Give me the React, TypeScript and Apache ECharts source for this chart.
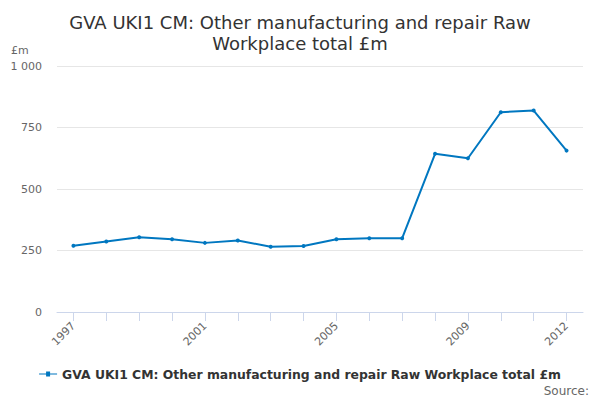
import React, { useEffect, useRef } from "react";
import * as echarts from "echarts";

const years = ["1997","1998","1999","2000","2001","2002","2003","2004","2005","2006","2007","2008","2009","2010","2011","2012"];
const values = [269, 287, 304, 296, 281, 291, 265, 268, 296, 300, 300, 643, 625, 812, 819, 656];
const yTicks = [0, 250, 500, 750, 1000];
const seriesName = "GVA UKI1 CM: Other manufacturing and repair Raw Workplace total £m";
const titleText = "GVA UKI1 CM: Other manufacturing and repair Raw\nWorkplace total £m";

const FONT = "DejaVu Sans";

export default function App() {
  const ref = useRef<HTMLDivElement>(null);
  useEffect(() => {
    if (!ref.current) return;
    const chart = echarts.init(ref.current, null, { renderer: "svg" });
    chart.setOption({
      animation: false,
      backgroundColor: "#ffffff",
      title: {
        text: titleText,
        left: "center",
        top: 7,
        textStyle: { fontFamily: FONT, fontSize: 18, fontWeight: "normal", color: "#333333", lineHeight: 21 },
      },
      legend: {
        bottom: 15,
        left: "center",
        itemWidth: 18,
        itemHeight: 8,
        itemGap: 5,
        icon: "path://M0,3.5 L18,3.5 L18,4.5 L0,4.5 Z M7,1.5 L11,1.5 L11,6.5 L7,6.5 Z",
        textStyle: { fontFamily: FONT, fontSize: 12.4, fontWeight: "bold", color: "#333333" },
        data: [seriesName],
      },
      graphic: [
        { type: "text", left: 11, top: 45, style: { text: "£m", fontFamily: FONT, fontSize: 11, fill: "#666666" } },
        { type: "text", right: 11, top: 385, style: { text: "Source:", fontFamily: FONT, fontSize: 12, fill: "#666666" } },
      ],
      grid: { left: 57, right: 17, top: 66, bottom: 88, containLabel: false },
      xAxis: {
        type: "category",
        data: years,
        boundaryGap: true,
        axisLine: { show: true, lineStyle: { color: "#ccd6eb", width: 1 } },
        axisTick: { show: true, alignWithLabel: true, interval: 0, length: 9, lineStyle: { color: "#ccd6eb", width: 1 } },
        axisLabel: {
          interval: (i: number) => i % 4 === 0 || i === years.length - 1,
          rotate: 45,
          fontFamily: FONT,
          fontSize: 11,
          color: "#666666",
          margin: 12,
        },
      },
      yAxis: {
        type: "value",
        min: 0,
        max: 1000,
        interval: 250,
        axisLine: { show: false },
        axisTick: { show: false },
        splitLine: { lineStyle: { color: "#e6e6e6" } },
        axisLabel: {
          fontFamily: FONT,
          fontSize: 11,
          color: "#666666",
          margin: 15,
          formatter: (v: number) => (yTicks.includes(v) ? (v >= 1000 ? "1 000" : String(v)) : ""),
        },
      },
      series: [
        {
          name: seriesName,
          type: "line",
          data: values,
          symbol: "circle",
          symbolSize: 4,
          lineStyle: { color: "#0077c0", width: 2 },
          itemStyle: { color: "#0077c0" },
        },
      ],
    });
    return () => chart.dispose();
  }, []);
  return <div ref={ref} style={{ width: 600, height: 400, position: "absolute", left: 0, top: 0 }} />;
}
